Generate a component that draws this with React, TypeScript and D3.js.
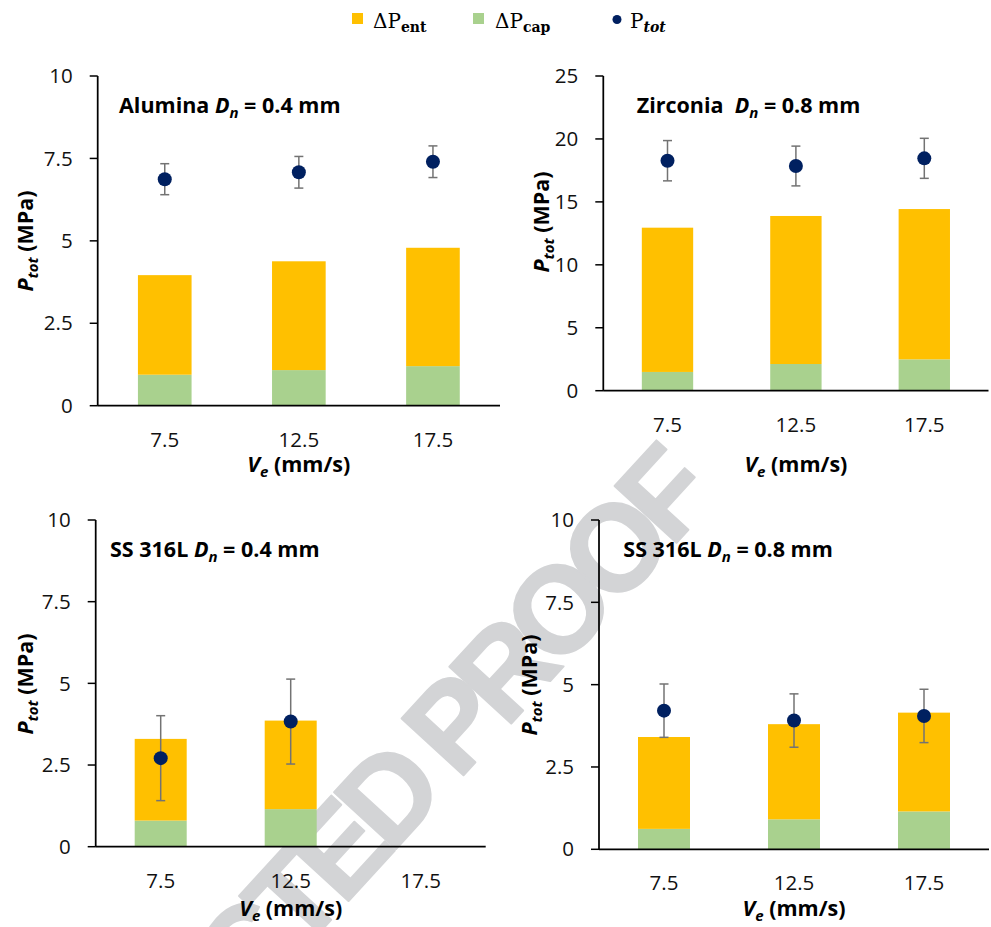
import React from "react";
import * as d3 from "d3";

// ---------- data ----------
const categories = ["7.5", "12.5", "17.5"];

const aluminaCap = [0.94, 1.08, 1.2];
const aluminaEnt = [3.02, 3.3, 3.59];
const aluminaTot = [6.87, 7.08, 7.4];
const aluminaErr = [0.47, 0.48, 0.48];

const zirconiaCap = [1.49, 2.12, 2.49];
const zirconiaEnt = [11.46, 11.76, 11.94];
const zirconiaTot = [18.27, 17.85, 18.46];
const zirconiaErr = [1.6, 1.58, 1.59];

const ss04Cap = [0.8, 1.15, null];
const ss04Ent = [2.5, 2.71, null];
const ss04Tot = [2.71, 3.83, null];
const ss04Err = [1.3, 1.3, null];

const ss08Cap = [0.62, 0.91, 1.15];
const ss08Ent = [2.79, 2.89, 3.0];
const ss08Tot = [4.21, 3.91, 4.05];
const ss08Err = [0.81, 0.81, 0.81];

const ticks10 = [0, 2.5, 5, 7.5, 10];
const ticks25 = [0, 5, 10, 15, 20, 25];

const legendLabels = ["ΔP", "ΔP", "P"];
const legendSubs = ["ent", "cap", "tot"];

// ---------- styles ----------
const ORANGE = "#FFC000";
const GREEN = "#A9D18E";
const NAVY = "#002060";
const ERR = "#737373";
const FONT = "'Open Sans', Lato, sans-serif";
const SERIF = "'DejaVu Serif', 'Liberation Serif', serif";
const LABEL_SIZE = 21.5;
const TICK_SIZE = 20.5;

type PanelCfg = {
  material: string;
  dn: string;
  cap: (number | null)[];
  ent: (number | null)[];
  tot: (number | null)[];
  err: (number | null)[];
  yMax: number;
  ticks: number[];
  left: number;
  right: number;
  top: number;
  bottom: number;
  titleX: number;
  titleY: number;
  yLabelX: number;
  yLabelY: number;
  xLabelY: number;
};

const panels: PanelCfg[] = [
  {
    material: "Alumina ", dn: " = 0.4 mm",
    cap: aluminaCap, ent: aluminaEnt, tot: aluminaTot, err: aluminaErr,
    yMax: 10, ticks: ticks10,
    left: 97.7, right: 500, top: 76, bottom: 405.7,
    titleX: 119, titleY: 113, yLabelX: 25, yLabelY: 241, xLabelY: 472,
  },
  {
    material: "Zirconia  ", dn: " = 0.8 mm",
    cap: zirconiaCap, ent: zirconiaEnt, tot: zirconiaTot, err: zirconiaErr,
    yMax: 25, ticks: ticks25,
    left: 603.3, right: 988.5, top: 76, bottom: 390.7,
    titleX: 636.7, titleY: 113, yLabelX: 541.7, yLabelY: 222, xLabelY: 472,
  },
  {
    material: "SS 316L ", dn: " = 0.4 mm",
    cap: ss04Cap, ent: ss04Ent, tot: ss04Tot, err: ss04Err,
    yMax: 10, ticks: ticks10,
    left: 95.7, right: 485.7, top: 520, bottom: 846.7,
    titleX: 110, titleY: 556.7, yLabelX: 25, yLabelY: 684, xLabelY: 916,
  },
  {
    material: "SS 316L ", dn: " = 0.8 mm",
    cap: ss08Cap, ent: ss08Ent, tot: ss08Tot, err: ss08Err,
    yMax: 10, ticks: ticks10,
    left: 599, right: 989, top: 520, bottom: 849.3,
    titleX: 623.3, titleY: 556.7, yLabelX: 529, yLabelY: 685, xLabelY: 916,
  },
];

function Panel({ p }: { p: PanelCfg }) {
  const y = d3.scaleLinear().domain([0, p.yMax]).range([p.bottom, p.top]);
  const x = d3.scaleBand<string>().domain(categories).range([p.left, p.right]).padding(0);
  const bw = x.bandwidth() * 0.4;
  const rows = categories
    .map((c, i) => ({ cat: c, cap: p.cap[i], ent: p.ent[i] }))
    .filter((r) => r.cap != null && r.ent != null) as { cat: string; cap: number; ent: number }[];
  const stack = d3.stack<{ cat: string; cap: number; ent: number }>().keys(["cap", "ent"]);
  const series = stack(rows);
  const colors = [GREEN, ORANGE];
  const cx = (c: string) => (x(c) as number) + x.bandwidth() / 2;
  const tickLen = 8;
  const cap = 4.5;

  return (
    <g>
      {series.map((s, si) =>
        s.map((d) => (
          <rect
            key={si + "-" + d.data.cat}
            x={cx(d.data.cat) - bw / 2}
            width={bw}
            y={y(d[1])}
            height={y(d[0]) - y(d[1])}
            fill={colors[si]}
          />
        ))
      )}
      {/* axes */}
      <line x1={p.left} x2={p.left} y1={y(p.yMax)} y2={y(0)} stroke="#000" strokeWidth={1.75} />
      <line x1={p.left} x2={p.right} y1={y(0)} y2={y(0)} stroke="#000" strokeWidth={1.75} />
      {p.ticks.map((t) => (
        <g key={t}>
          <line x1={p.left - tickLen} x2={p.left} y1={y(t)} y2={y(t)} stroke="#000" strokeWidth={1.5} />
          <text
            x={p.left - 25}
            y={y(t)}
            dy="0.35em"
            textAnchor="end"
            fontFamily={FONT}
            fontSize={TICK_SIZE}
            fill="#111"
          >
            {String(t)}
          </text>
        </g>
      ))}
      {categories.map((c) => (
        <text key={c} x={cx(c)} y={y(0) + 41} textAnchor="middle" fontFamily={FONT} fontSize={TICK_SIZE} fill="#111">
          {c}
        </text>
      ))}
      {/* error bars + points */}
      {categories.map((c, i) => {
        const v = p.tot[i];
        const e = p.err[i];
        if (v == null || e == null) return null;
        const X = cx(c);
        return (
          <g key={"e" + c}>
            <line x1={X} x2={X} y1={y(v + e)} y2={y(v - e)} stroke={ERR} strokeWidth={1.5} />
            <line x1={X - cap} x2={X + cap} y1={y(v + e)} y2={y(v + e)} stroke={ERR} strokeWidth={1.5} />
            <line x1={X - cap} x2={X + cap} y1={y(v - e)} y2={y(v - e)} stroke={ERR} strokeWidth={1.5} />
          </g>
        );
      })}
      {categories.map((c, i) => {
        const v = p.tot[i];
        if (v == null) return null;
        return <circle key={"p" + c} cx={cx(c)} cy={y(v)} r={7} fill={NAVY} />;
      })}
      {/* title */}
      <text x={p.titleX} y={p.titleY} fontFamily={FONT} fontSize={LABEL_SIZE} fontWeight="bold" fill="#000" style={{ whiteSpace: "pre" }}>
        <tspan>{p.material}</tspan>
        <tspan fontStyle="italic">D</tspan>
        <tspan fontStyle="italic" fontSize={15} dy={5}>n</tspan>
        <tspan dy={-5}>{p.dn}</tspan>
      </text>
      {/* y label */}
      <text
        transform={`translate(${p.yLabelX},${p.yLabelY}) rotate(-90)`}
        textAnchor="middle"
        fontFamily={FONT}
        fontSize={LABEL_SIZE}
        fontWeight="bold"
        fill="#000"
        dy="0.35em"
      >
        <tspan fontStyle="italic">P</tspan>
        <tspan fontStyle="italic" fontSize={15} dy={5}>tot</tspan>
        <tspan dy={-5}> (MPa)</tspan>
      </text>
      {/* x label */}
      <text x={(p.left + p.right) / 2} y={p.xLabelY} textAnchor="middle" fontFamily={FONT} fontSize={LABEL_SIZE} fontWeight="bold" fill="#000">
        <tspan fontStyle="italic">V</tspan>
        <tspan fontStyle="italic" fontSize={15} dy={5}>e</tspan>
        <tspan dy={-5}> (mm/s)</tspan>
      </text>
    </g>
  );
}

function Legend() {
  const items = [
    { kind: "rect", color: ORANGE, mx: 352, tx: 373 },
    { kind: "rect", color: GREEN, mx: 473, tx: 495 },
    { kind: "dot", color: NAVY, mx: 612, tx: 630 },
  ];
  const subStyles = [
    { fontWeight: "bold", fontStyle: "normal" },
    { fontWeight: "bold", fontStyle: "normal" },
    { fontWeight: "bold", fontStyle: "italic" },
  ];
  return (
    <g>
      {items.map((it, i) => (
        <g key={i}>
          {it.kind === "rect" ? (
            <rect x={it.mx} y={13} width={11} height={11} fill={it.color} />
          ) : (
            <circle cx={it.mx + 5} cy={19.5} r={4.5} fill={it.color} />
          )}
          <text x={it.tx} y={28} fontFamily={SERIF} fontSize={20} fill="#000">
            <tspan>{legendLabels[i]}</tspan>
            <tspan fontSize={14} dy={4} fontWeight={subStyles[i].fontWeight} fontStyle={subStyles[i].fontStyle}>
              {legendSubs[i]}
            </tspan>
          </text>
        </g>
      ))}
    </g>
  );
}

export default function App() {
  return (
    <svg
      width={991}
      height={927}
      viewBox="0 0 991 927"
      style={{ position: "absolute", left: 0, top: 0, background: "#fff" }}
    >
      <rect x={0} y={0} width={991} height={927} fill="#fff" />
      <text
        transform="translate(714,502) rotate(-47.5)"
        textAnchor="end"
        fontFamily="'Liberation Sans', Arial, sans-serif"
        fontWeight="bold"
        fontSize={122}
        letterSpacing={-11}
        fill="#d3d4d6"
        stroke="#d3d4d6"
        strokeWidth={2}
        strokeLinejoin="round"
      >
        UNCORRECTED PROOF
      </text>
      <Legend />
      {panels.map((p, i) => (
        <Panel key={i} p={p} />
      ))}
    </svg>
  );
}
